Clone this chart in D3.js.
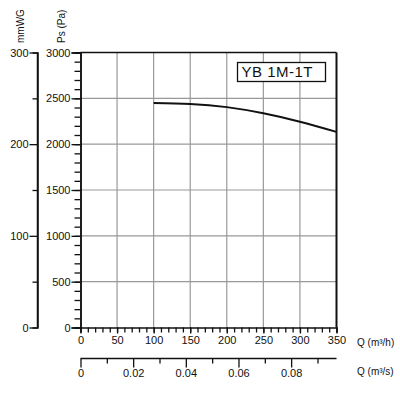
<!DOCTYPE html>
<html><head><meta charset="utf-8">
<script src="https://cdn.jsdelivr.net/npm/d3@7"></script>
<style>body{margin:0;background:#fff}text{font-family:"Liberation Sans",Arial,sans-serif}</style>
</head><body><svg id="c" width="400" height="400"></svg>
<script>
const flowM3h = [100, 150, 200, 250, 300, 350];
const pressurePa = [2450, 2439, 2404, 2337, 2245, 2134];
const paTicks = [0, 500, 1000, 1500, 2000, 2500, 3000];
const mmTicks = [0, 100, 200, 300];
const qhTicks = [0, 50, 100, 150, 200, 250, 300, 350];
const qsTicks = [0, 0.02, 0.04, 0.06, 0.08];
const modelName = "YB 1M-1T";

const svg = d3.select("#c");
const x = d3.scaleLinear().domain([0, 350]).range([80.5, 336.5]);
const xs = d3.scaleLinear().domain([0, 350 / 3600]).range([80.5, 336.5]);
const y = d3.scaleLinear().domain([0, 3000]).range([327.5, 52.5]);
const ym = d3.scaleLinear().domain([0, 300]).range([327.5, 52.5]);
const ink = "#111";

// grid
const g = svg.append("g");
g.selectAll(".gx").data(qhTicks.filter(d => d > 0 && d < 350)).join("line")
  .attr("x1", d => x(d)).attr("x2", d => x(d)).attr("y1", y(3000)).attr("y2", y(0))
  .attr("stroke", "#999").attr("stroke-width", 1.2);
g.selectAll(".gy").data(paTicks.filter(d => d > 0 && d < 3000)).join("line")
  .attr("x1", x(0)).attr("x2", x(350)).attr("y1", d => y(d)).attr("y2", d => y(d))
  .attr("stroke", "#999").attr("stroke-width", 1.2);
// frame top/right
svg.append("line").attr("x1", x(0)).attr("x2", x(350)).attr("y1", y(3000)).attr("y2", y(3000)).attr("stroke", ink).attr("stroke-width", 1.5);
svg.append("line").attr("x1", x(350)).attr("x2", x(350)).attr("y1", y(3000)).attr("y2", y(0)).attr("stroke", ink).attr("stroke-width", 2);

function style(sel) {
  sel.select(".domain").attr("stroke", ink).attr("stroke-width", 1.5);
  sel.selectAll(".tick line").attr("stroke", ink).attr("stroke-width", 1.3);
  sel.selectAll(".tick text").attr("fill", ink).attr("font-size", 11);
}

// Pa axis
svg.append("g").attr("transform", `translate(${x(0)},0)`)
  .call(d3.axisLeft(y).tickValues(d3.range(0, 3001, 100)).tickSize(6).tickFormat(""))
  .call(s => { style(s); s.selectAll(".tick text").remove(); });
svg.append("g").attr("transform", `translate(${x(0)},0)`)
  .call(d3.axisLeft(y).tickValues(paTicks).tickSize(9).tickPadding(1).tickFormat(d3.format("d")))
  .call(style);

// mmWG axis
const mmX = 37.5;
svg.append("g").attr("transform", `translate(${mmX},0)`)
  .call(d3.axisLeft(ym).tickValues([50, 150, 250]).tickSize(5).tickFormat(""))
  .call(style);
svg.append("g").attr("transform", `translate(${mmX},0)`)
  .call(d3.axisLeft(ym).tickValues(mmTicks).tickSize(8).tickPadding(1).tickFormat(d3.format("d")))
  .call(s => { style(s); s.select(".domain").remove(); });
svg.append("line").attr("x1", mmX).attr("x2", mmX).attr("y1", ym(300)).attr("y2", ym(0)).attr("stroke", ink).attr("stroke-width", 1.5);

// Q m3/h axis
svg.append("g").attr("transform", `translate(0,${y(0)})`)
  .call(d3.axisBottom(x).tickValues(d3.range(0, 351, 10)).tickSize(5).tickFormat(""))
  .call(style);
svg.append("g").attr("transform", `translate(0,${y(0)})`)
  .call(d3.axisBottom(x).tickValues(qhTicks).tickSize(6).tickPadding(3).tickFormat(d3.format("d")))
  .call(s => { style(s); s.select(".domain").remove(); });

// Q m3/s axis
const qsY = 358.5;
svg.append("g").attr("transform", `translate(0,${qsY})`)
  .call(d3.axisBottom(xs).tickValues([0.01, 0.03, 0.05, 0.07, 0.09]).tickSize(5).tickFormat(""))
  .call(s => { style(s); s.select(".domain").attr("d", `M${xs(0)},0H${xs(350/3600)}`); });
svg.append("g").attr("transform", `translate(0,${qsY})`)
  .call(d3.axisBottom(xs).tickValues(qsTicks).tickSize(9).tickPadding(2).tickFormat(d => d === 0 ? "0" : d3.format(".2f")(d)))
  .call(s => { style(s); s.select(".domain").remove(); });

// curve
const pts = flowM3h.map((q, i) => [q, pressurePa[i]]);
svg.append("path").datum(pts)
  .attr("d", d3.line().x(d => x(d[0])).y(d => y(d[1])).curve(d3.curveNatural))
  .attr("fill", "none").attr("stroke", ink).attr("stroke-width", 2);

// model box
svg.append("rect").attr("x", 237.5).attr("y", 62.5).attr("width", 88).attr("height", 19)
  .attr("fill", "#fff").attr("stroke", ink).attr("stroke-width", 1.3);
svg.append("text").attr("x", 241.5).attr("y", 77).attr("font-size", 15).attr("fill", ink)
  .attr("textLength", 71).text(modelName);

// axis titles
svg.append("text").attr("transform", "translate(23.5,43) rotate(-90)").attr("font-size", 10).attr("fill", ink).text("mmWG");
svg.append("text").attr("transform", "translate(65,43) rotate(-90)").attr("font-size", 10).attr("fill", ink).text("Ps (Pa)");
svg.append("text").attr("x", 357).attr("y", 346).attr("font-size", 10).attr("fill", ink).text("Q (m³/h)");
svg.append("text").attr("x", 357).attr("y", 375).attr("font-size", 10).attr("fill", ink).text("Q (m³/s)");
</script></body></html>
